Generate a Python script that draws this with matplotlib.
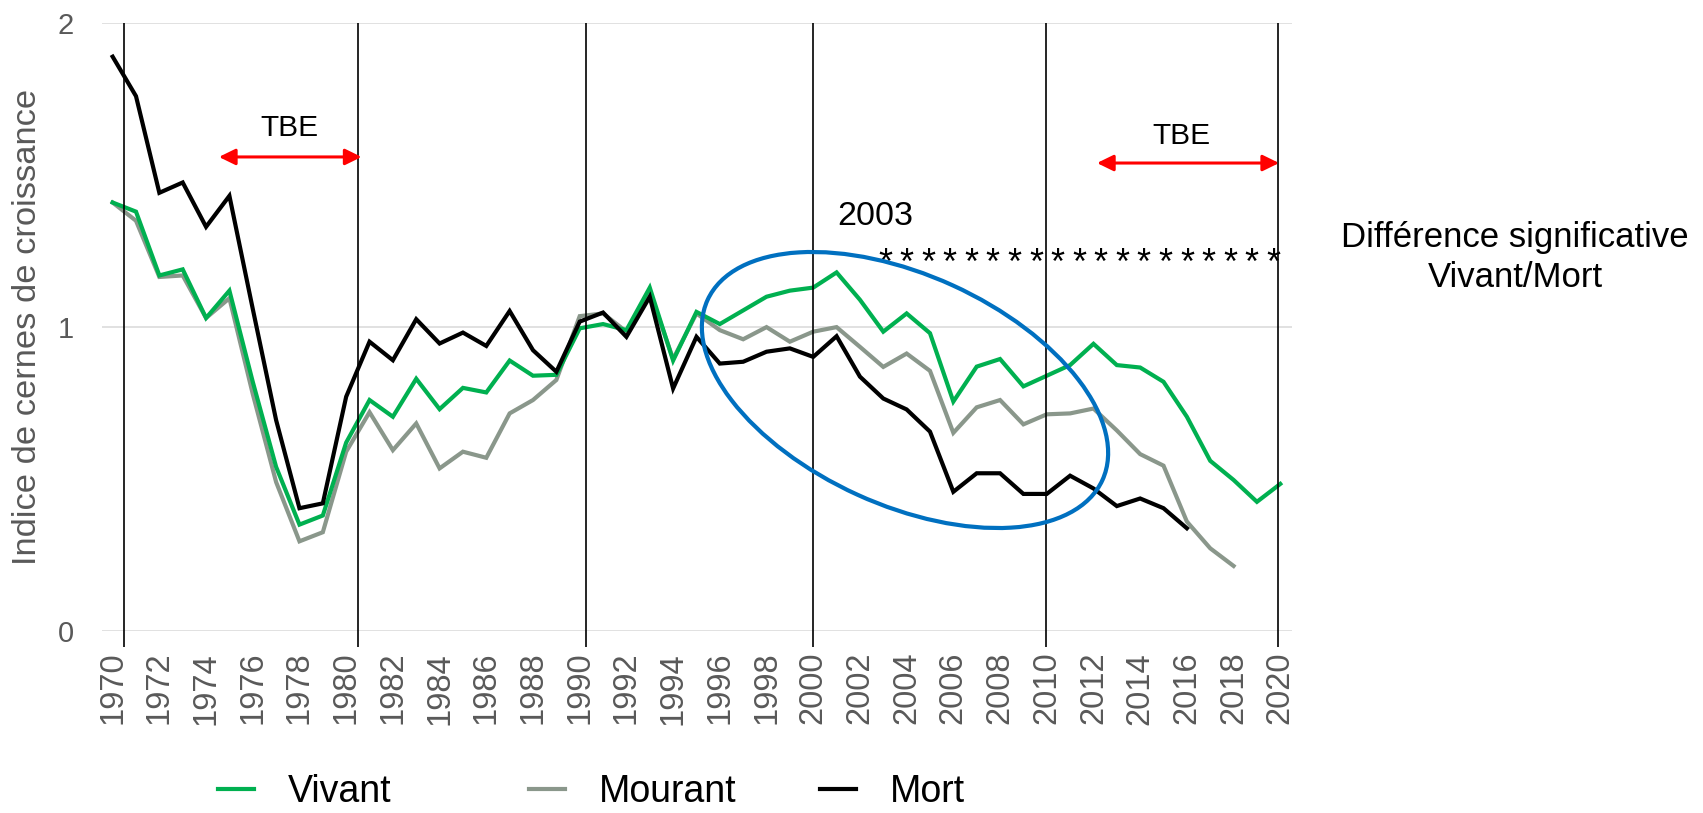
import numpy as np
import matplotlib
matplotlib.use('Agg')
import matplotlib.pyplot as plt
from matplotlib.patches import Ellipse
from matplotlib import transforms

plt.rcParams['font.family'] = ['Liberation Sans', 'DejaVu Sans']

# ring-width index per year
years = np.arange(1970, 2021)
vivant = [1.41, 1.38, 1.17, 1.19, 1.03, 1.12, 0.82, 0.54, 0.35, 0.38,
          0.62, 0.76, 0.705, 0.83, 0.73, 0.80, 0.785, 0.89, 0.84, 0.843,
          0.996, 1.01, 0.99, 1.13, 0.89, 1.05, 1.01, 1.055, 1.10, 1.12,
          1.13, 1.18, 1.09, 0.985, 1.045, 0.98, 0.755, 0.87, 0.895, 0.805,
          0.84, 0.875, 0.945, 0.875, 0.867, 0.82, 0.705, 0.56, 0.497, 0.425,
          0.484]
mourant = [1.41, 1.35, 1.165, 1.17, 1.03, 1.095, 0.78, 0.49, 0.295, 0.325,
           0.59, 0.72, 0.595, 0.683, 0.535, 0.59, 0.57, 0.716, 0.76, 0.826,
           1.036, 1.045, 0.985, 1.116, 0.895, 1.045, 0.99, 0.96, 1.0, 0.952,
           0.985, 1.0, 0.935, 0.869, 0.913, 0.856, 0.652, 0.736, 0.76, 0.68,
           0.713, 0.716, 0.732, 0.66, 0.582, 0.544, 0.36, 0.272, 0.214]
mort = [1.89, 1.76, 1.442, 1.476, 1.33, 1.432, 1.06, 0.694, 0.404, 0.42,
        0.771, 0.952, 0.891, 1.026, 0.946, 0.982, 0.938, 1.053, 0.924, 0.853,
        1.018, 1.048, 0.968, 1.10, 0.798, 0.968, 0.88, 0.886, 0.919, 0.93,
        0.902, 0.97, 0.837, 0.765, 0.729, 0.656, 0.458, 0.519, 0.519, 0.451,
        0.451, 0.511, 0.469, 0.411, 0.436, 0.404, 0.338]

series_names = ['Vivant', 'Mourant', 'Mort']
series_colors = ['#00B050', '#8A978B', '#000000']

year_ticks = np.arange(1970, 2021, 2)
y_ticks = [0, 1, 2]
decade_lines = [1970.5, 1980.5, 1990.25, 2000.0, 2009.95, 2019.9]

# TBE outbreaks: (start, end, arrow height, text x, text y)
tbe = [(1974.55, 1980.66, 1.56, 1977.55, 1.656),
       (2012.15, 2019.95, 1.54, 2015.75, 1.63)]
# significance stars, 2003 -> 2020
n_stars = 19
star_first, star_last = 2003.07, 2019.70

fig = plt.figure(figsize=(17.03, 8.13), dpi=100)
ax = fig.add_axes([0.0597, 0.2239, 0.6988, 0.7475])

grey = '#595959'
lines = {}
for name, vals, col in [('Mourant', mourant, series_colors[1]),
                        ('Vivant', vivant, series_colors[0]),
                        ('Mort', mort, series_colors[2])]:
    lines[name], = ax.plot(years[:len(vals)], vals, color=col, lw=3,
                           solid_joinstyle='miter', zorder=3)

ax.set_xlim(1969.53, 2020.49)
ax.set_ylim(0, 2)
ax.set_yticks(y_ticks)
ax.set_xticks(year_ticks)
ax.set_xticklabels([str(y) for y in year_ticks], rotation=90)
ax.tick_params(axis='x', length=0, pad=15, labelsize=23.5, labelcolor=grey)
ax.tick_params(axis='y', length=0, pad=20, labelsize=21, labelcolor=grey)
for s in ax.spines.values():
    s.set_visible(False)
ax.grid(axis='y', color='#D9D9D9', lw=1.1, zorder=0)
ax.set_axisbelow(True)

ax.vlines(decade_lines, -0.053, 2.0, color='black', lw=1.2, clip_on=False, zorder=4)

for x0, x1, ya, xt, yt in tbe:
    ax.annotate('', xy=(x1, ya), xytext=(x0, ya),
                arrowprops=dict(arrowstyle='<|-|>,head_length=0.45,head_width=0.22',
                                mutation_scale=22, lw=2.2, color='red',
                                shrinkA=0, shrinkB=0), zorder=5)
    ax.text(xt, yt, 'TBE', ha='center', va='center', fontsize=21.5)

ax.text(2002.67, 1.364, '2003', ha='center', va='center', fontsize=24.5)
for xs in np.linspace(star_first, star_last, n_stars):
    ax.text(xs, 1.174, '*', ha='center', va='baseline', fontsize=26)

# blue ellipse around the 2003 drought period
ell_tr = fig.dpi_scale_trans + transforms.ScaledTranslation(2003.93, 0.793, ax.transData)
ax.add_patch(Ellipse((0, 0), 4.34, 2.30, angle=-24.5, fill=False,
                     edgecolor='#0070C0', lw=3, transform=ell_tr, zorder=6))

fig.text(0.0164, 0.5984, 'Indice de cernes de croissance', rotation=90,
         ha='center', va='center', fontsize=24.8, color=grey)
fig.text(0.8896, 0.6833, 'Différence significative\nVivant/Mort', ha='center',
         va='center', fontsize=25, linespacing=1.3, multialignment='center')

# legend entries placed one by one (uneven spacing in the original)
legend_x = [0.128, 0.3106, 0.4815]
for name, lx in zip(series_names, legend_x):
    fig.legend([lines[name]], [name], loc='center left',
               bbox_to_anchor=(lx, 0.0258), frameon=False, fontsize=27,
               handlelength=0.96, handletextpad=0.9, borderpad=0,
               borderaxespad=0)

fig.savefig('out.png', dpi=100)
